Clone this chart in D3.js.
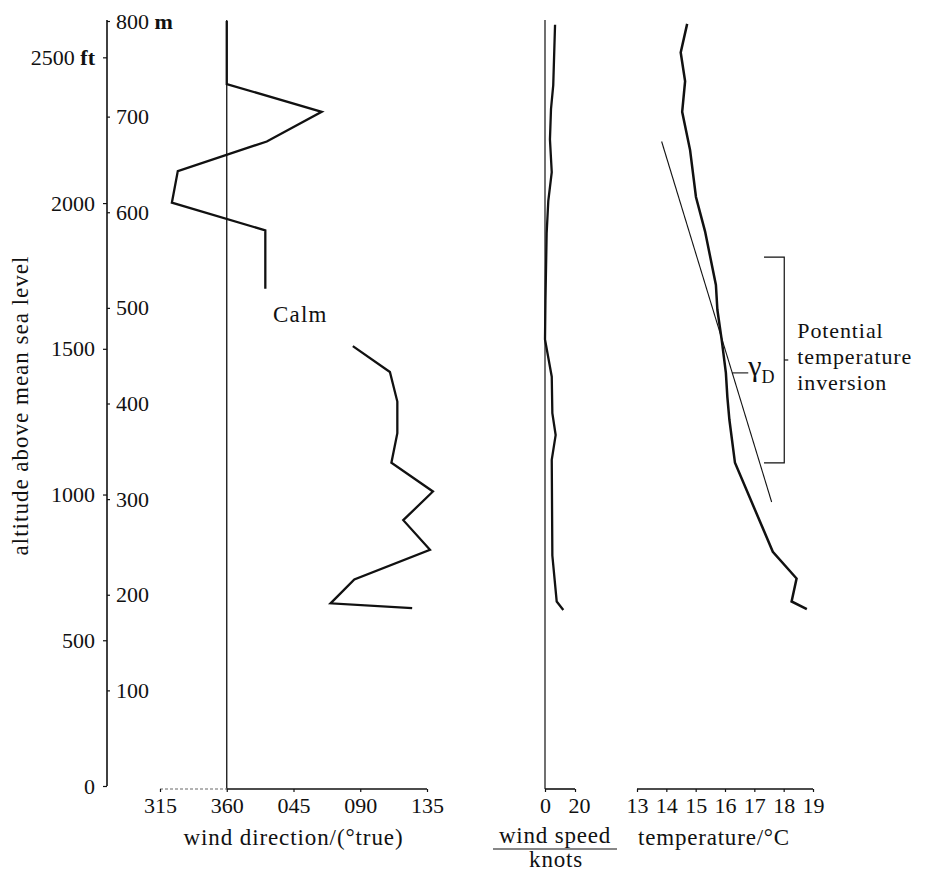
<!DOCTYPE html>
<html><head><meta charset="utf-8">
<script src="https://cdn.jsdelivr.net/npm/d3@7"></script>
<style>
body{margin:0;background:#fff;}
svg{display:block;}
text{font-family:"Liberation Serif","Times New Roman",serif;fill:#111;}
</style></head><body>
<svg id="chart" width="928" height="871"></svg>
<script>
// ---------------- data ----------------
const altTicksM = [100,200,300,400,500,600,700,800];
const altTicksFt = [0,500,1000,1500,2000,2500];
const dirTicks = [315,360,45,90,135];
const dirTickLabels = ["315","360","045","090","135"];
const speedTicks = [0,20];
const tempTicks = [13,14,15,16,17,18,19];

// wind direction (deg true) vs altitude (m); gap = calm layer
const dirUpperAlt = [800,734,705,674,643,610,581,520];
const dirUpperDeg = [360,360,64,27,327,323,26,26];
const dirLowerAlt = [460,433,402,369,338,308,278,247,216,191,186];
const dirLowerDeg = [85,110,115,115,111,139,119,137,86,70,125];

// wind speed (knots) vs altitude (m)
const speedAlt = [796,733,708,676,642,612,578,508,467,428,390,367,341,241,193,184];
const speedKn  = [6.7,5.5,4.0,3.3,4.5,2.2,1.1,0.3,0,4.5,4.9,7.1,4.5,4.9,7.8,12.2];

// temperature (°C) vs altitude (m)
const tempAlt = [797,767,737,705,665,616,580,524,498,466,432,407,383,338,245,217,193,185];
const tempC   = [14.71,14.49,14.64,14.54,14.81,15.01,15.32,15.69,15.74,15.89,16.03,16.08,16.15,16.34,17.63,18.44,18.27,18.79];

// dry adiabatic lapse line
const adiabatAlt = [674,297];
const adiabatC   = [13.84,17.59];

// potential temperature inversion layer (m) and gamma_D pointer altitude
const inversionAlt = [553,338];
const gammaAlt = 432;

// ---------------- drawing ----------------
const svg = d3.select("#chart");
const ink = "#111";

const y = d3.scaleLinear().domain([0,800]).range([786,21]);
const yFt = d3.scaleLinear().domain([0,800/0.3048]).range([786,21]);
const unwrap = d => d < 315 ? d + 360 : d;
const xDir = d3.scaleLinear().domain([315,495]).range([160,427]);
const xSpd = d3.scaleLinear().domain([0,20]).range([545,575]);
const xT = d3.scaleLinear().domain([13,19]).range([637,813]);
const axisY = 789;
const axisX = 107;

function styleAxis(g, size){
  g.attr("font-family",null).attr("font-size",null);
  g.selectAll(".domain").remove();
  g.selectAll(".tick line").attr("stroke",ink).attr("stroke-width",1.2);
  g.selectAll(".tick text").attr("fill",ink).style("font-size",size+"px");
}

// vertical altitude axis
svg.append("line").attr("x1",axisX).attr("x2",axisX).attr("y1",y(800)-1).attr("y2",y(0))
  .attr("stroke",ink).attr("stroke-width",1.6);

const gM = svg.append("g").attr("transform",`translate(${axisX},0)`)
  .call(d3.axisRight(y).tickValues(altTicksM).tickSize(3).tickPadding(6).tickFormat(d=>d));
styleAxis(gM,22);
gM.selectAll(".tick text").filter(d=>d===800).text("800 ")
  .append("tspan").attr("font-weight","bold").text("m");

const gFt = svg.append("g").attr("transform",`translate(${axisX},0)`)
  .call(d3.axisLeft(yFt).tickValues(altTicksFt).tickSize(4).tickPadding(8).tickFormat(d=>d));
styleAxis(gFt,22);
gFt.selectAll(".tick text").filter(d=>d===2500).text("2500 ")
  .append("tspan").attr("font-weight","bold").text("ft");

svg.append("text").attr("transform",`translate(28,${y(400)+2}) rotate(-90)`)
  .attr("text-anchor","middle").style("font-size","23px").style("letter-spacing","1px")
  .text("altitude above mean sea level");

// wind direction panel
svg.append("line").attr("x1",xDir(360)).attr("x2",xDir(360)).attr("y1",y(800)-1).attr("y2",axisY)
  .attr("stroke",ink).attr("stroke-width",1.3);
svg.append("line").attr("x1",xDir(315)).attr("x2",xDir(360)).attr("y1",axisY).attr("y2",axisY)
  .attr("stroke","#9a9a9a").attr("stroke-width",1.4).attr("stroke-dasharray","3,2");
svg.append("line").attr("x1",xDir(360)).attr("x2",xDir(495)).attr("y1",axisY).attr("y2",axisY)
  .attr("stroke",ink).attr("stroke-width",1.6);
const gDir = svg.append("g").attr("transform",`translate(0,${axisY})`)
  .call(d3.axisBottom(xDir).tickValues(dirTicks.map(unwrap)).tickSize(3).tickPadding(5)
    .tickFormat((d,i)=>dirTickLabels[i]));
styleAxis(gDir,22);
svg.append("text").attr("x",xDir(405)).attr("y",845).attr("text-anchor","middle")
  .style("font-size","23px").style("letter-spacing","0.9px").text("wind direction/(°true)");

const lineDir = d3.line().x(d=>xDir(unwrap(d[1]))).y(d=>y(d[0]));
svg.append("path").datum(d3.zip(dirUpperAlt,dirUpperDeg)).attr("d",lineDir)
  .attr("fill","none").attr("stroke",ink).attr("stroke-width",2.3).attr("stroke-linejoin","miter");
svg.append("path").datum(d3.zip(dirLowerAlt,dirLowerDeg)).attr("d",lineDir)
  .attr("fill","none").attr("stroke",ink).attr("stroke-width",2.3).attr("stroke-linejoin","miter");
svg.append("text").attr("x",273).attr("y",y(485)).style("font-size","23px")
  .style("letter-spacing","1.2px").text("Calm");

// wind speed panel
svg.append("line").attr("x1",xSpd(0)).attr("x2",xSpd(0)).attr("y1",y(800)-1).attr("y2",axisY)
  .attr("stroke",ink).attr("stroke-width",1.2);
svg.append("line").attr("x1",xSpd(0)).attr("x2",xSpd(20)).attr("y1",axisY).attr("y2",axisY)
  .attr("stroke",ink).attr("stroke-width",1.6);
const gSpd = svg.append("g").attr("transform",`translate(0,${axisY})`)
  .call(d3.axisBottom(xSpd).tickValues(speedTicks).tickSize(3).tickPadding(5).tickFormat(d=>d));
styleAxis(gSpd,22);
gSpd.selectAll(".tick text").filter(d=>d===20).attr("dx",4);
svg.append("path").datum(d3.zip(speedAlt,speedKn))
  .attr("d",d3.line().x(d=>xSpd(d[1])).y(d=>y(d[0])))
  .attr("fill","none").attr("stroke",ink).attr("stroke-width",2.3);
svg.append("text").attr("x",555).attr("y",843).attr("text-anchor","middle")
  .style("font-size","23px").style("letter-spacing","0.8px").text("wind speed");
svg.append("line").attr("x1",493).attr("x2",617).attr("y1",849).attr("y2",849)
  .attr("stroke",ink).attr("stroke-width",1.2);
svg.append("text").attr("x",556).attr("y",867).attr("text-anchor","middle")
  .style("font-size","23px").style("letter-spacing","0.8px").text("knots");

// temperature panel
svg.append("line").attr("x1",xT(13)).attr("x2",xT(19)).attr("y1",axisY).attr("y2",axisY)
  .attr("stroke",ink).attr("stroke-width",1.6);
const gT = svg.append("g").attr("transform",`translate(0,${axisY})`)
  .call(d3.axisBottom(xT).tickValues(tempTicks).tickSize(3).tickPadding(5).tickFormat(d=>d));
styleAxis(gT,22);
svg.append("text").attr("x",714).attr("y",845).attr("text-anchor","middle")
  .style("font-size","23px").style("letter-spacing","0.8px").text("temperature/°C");

svg.append("path").datum(d3.zip(tempAlt,tempC))
  .attr("d",d3.line().x(d=>xT(d[1])).y(d=>y(d[0])))
  .attr("fill","none").attr("stroke",ink).attr("stroke-width",2.5);
svg.append("path").datum(d3.zip(adiabatAlt,adiabatC))
  .attr("d",d3.line().x(d=>xT(d[1])).y(d=>y(d[0])))
  .attr("fill","none").attr("stroke",ink).attr("stroke-width",1.1);

// gamma_D pointer
const adiabatAt = a => d3.scaleLinear().domain(adiabatAlt).range(adiabatC)(a);
const gx = xT(adiabatAt(gammaAlt));
svg.append("line").attr("x1",gx).attr("x2",gx+16).attr("y1",y(gammaAlt)).attr("y2",y(gammaAlt))
  .attr("stroke",ink).attr("stroke-width",1.1);
const gt = svg.append("text").attr("x",gx+16).attr("y",y(gammaAlt)+3.5).style("font-size","30px").text("γ");
gt.append("tspan").attr("dy",7).style("font-size","18px").text("D");

// inversion bracket
const bx = xT(18.02), bl = xT(17.33);
svg.append("path")
  .attr("d",`M${bl},${y(inversionAlt[0])}H${bx}V${y(inversionAlt[1])}H${bl}`)
  .attr("fill","none").attr("stroke",ink).attr("stroke-width",1.2);
const midY = y((inversionAlt[0]+inversionAlt[1])/2);
svg.append("line").attr("x1",bx).attr("x2",bx+4).attr("y1",midY).attr("y2",midY)
  .attr("stroke",ink).attr("stroke-width",1.2);
const lab = svg.append("text").attr("x",bx+13).attr("y",midY-22)
  .style("font-size","22px").style("letter-spacing","0.9px");
["Potential","temperature","inversion"].forEach((s,i)=>{
  lab.append("tspan").attr("x",bx+13).attr("dy",i===0?0:26).text(s);
});
</script>
</body></html>
